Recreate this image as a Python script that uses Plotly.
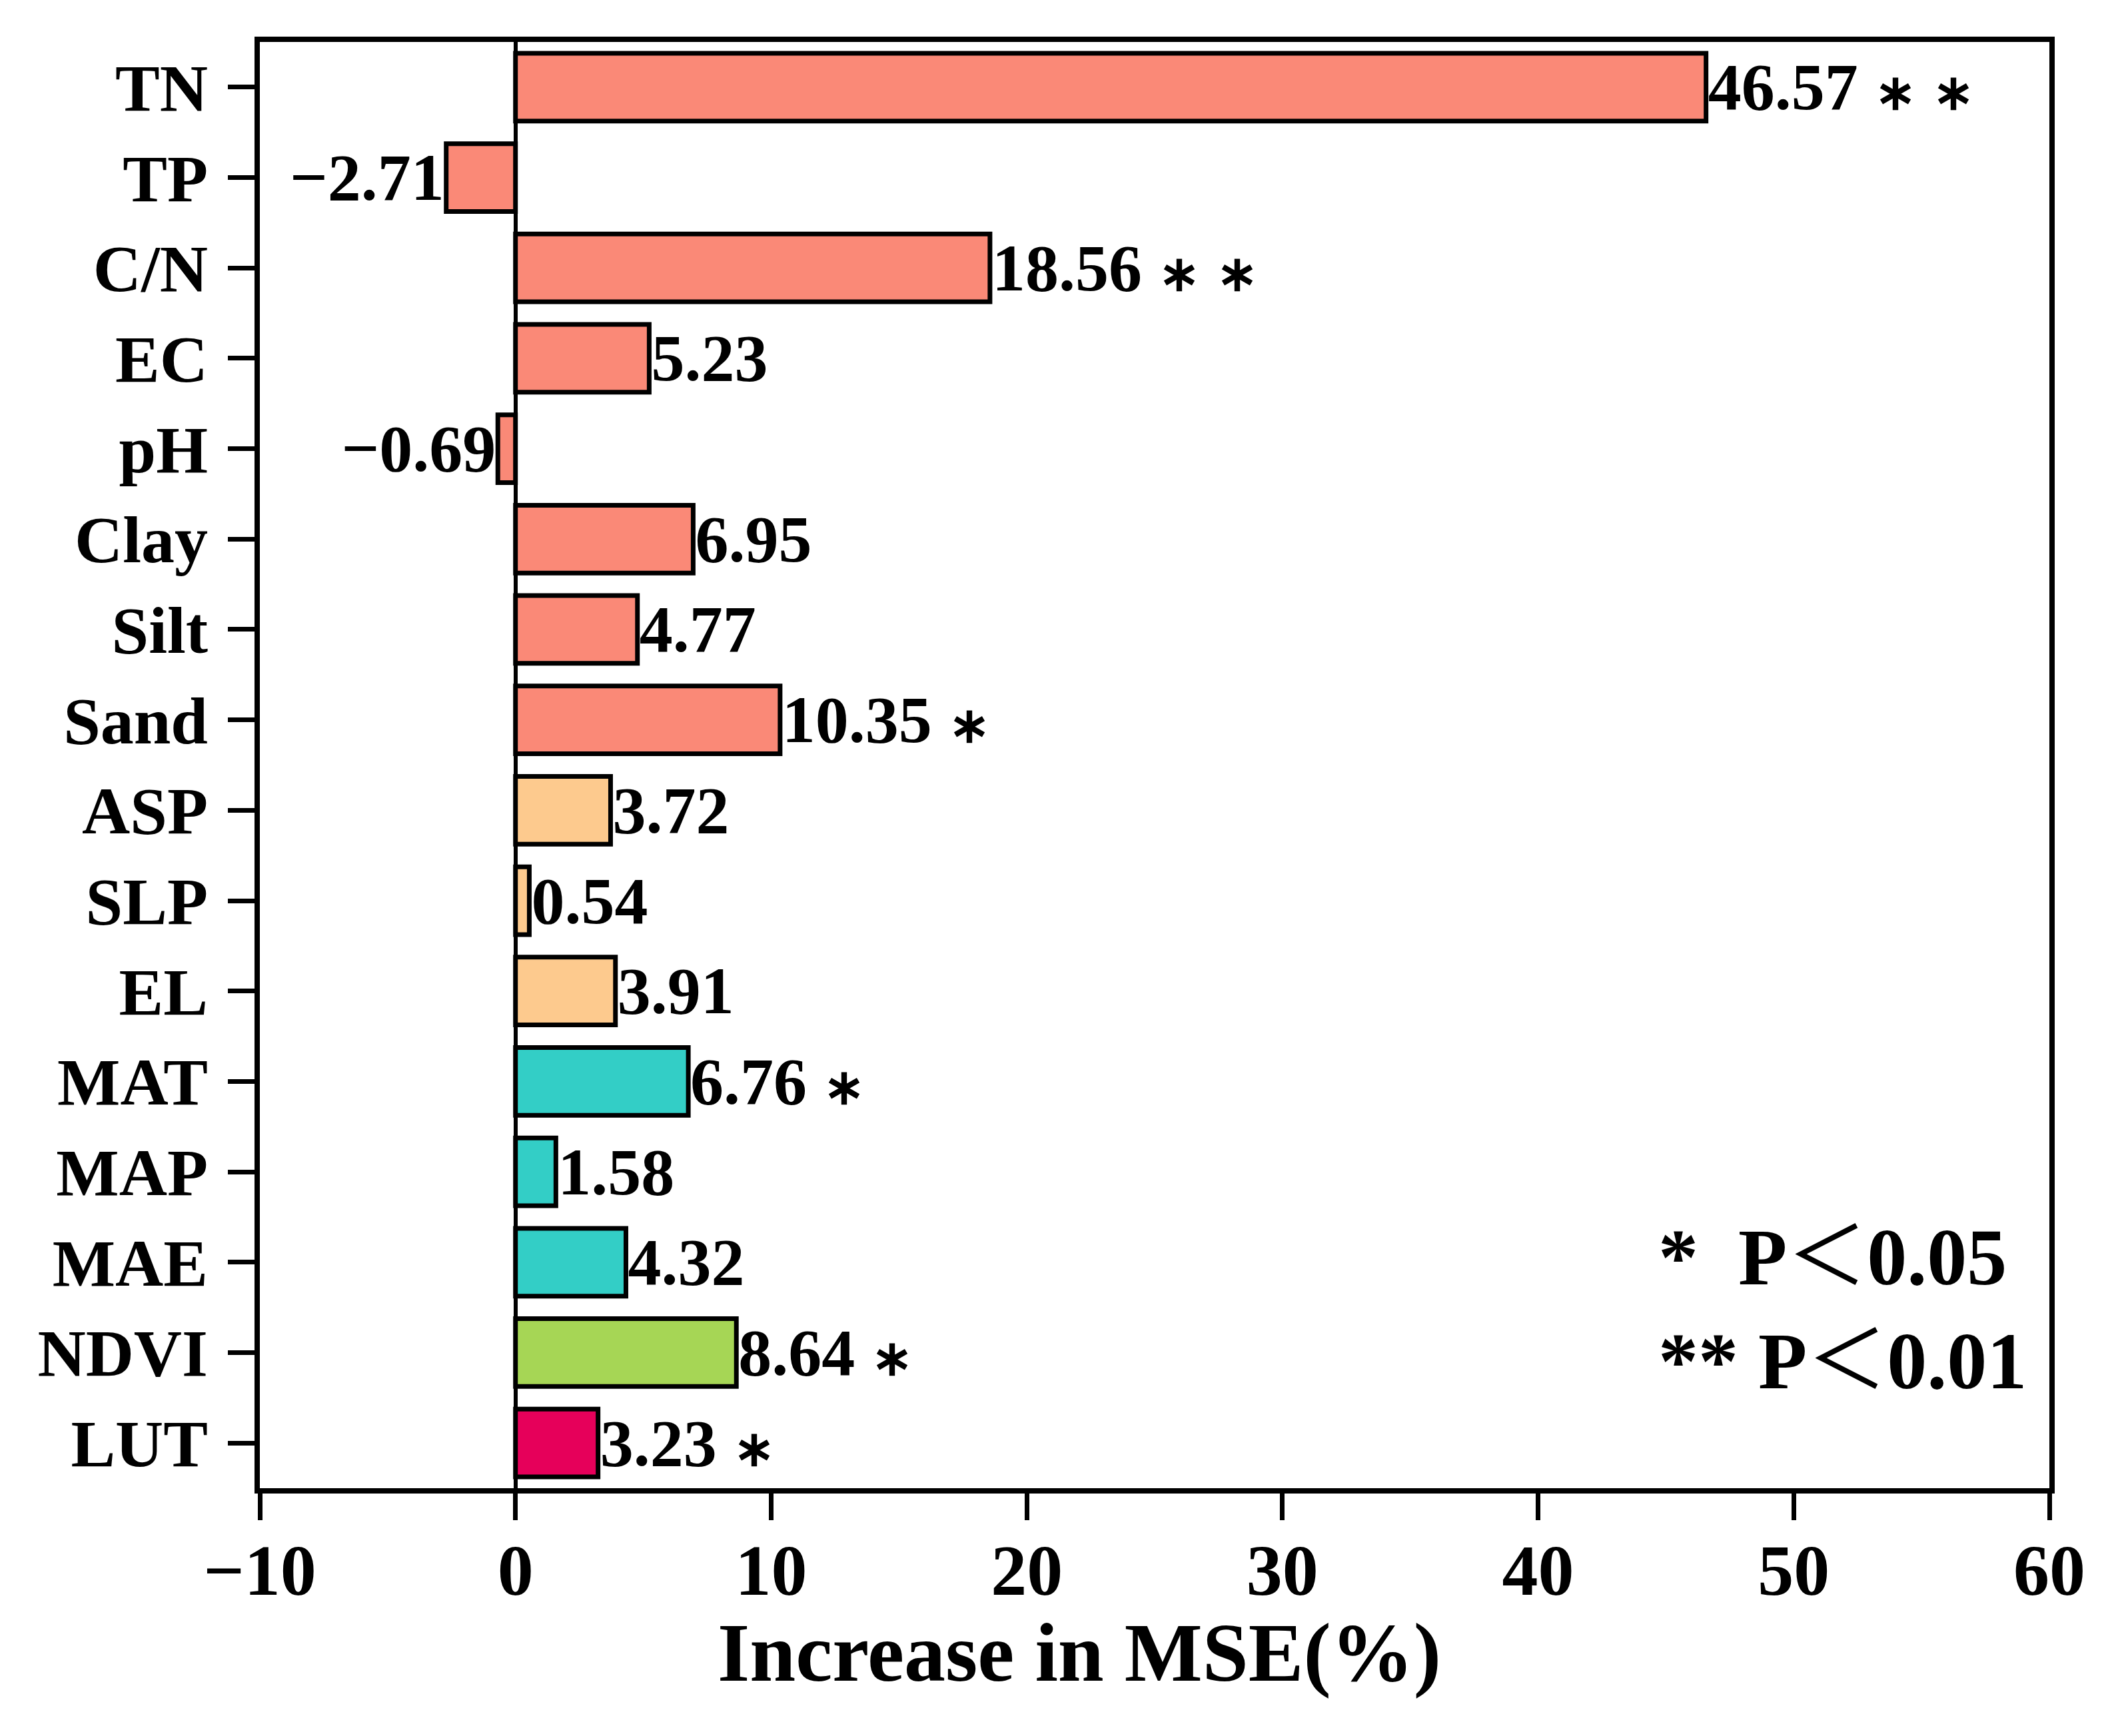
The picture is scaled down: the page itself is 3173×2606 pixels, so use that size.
import plotly.graph_objects as go

# variables, top to bottom as drawn
variables = ["TN", "TP", "C/N", "EC", "pH", "Clay", "Silt", "Sand",
             "ASP", "SLP", "EL", "MAT", "MAP", "MAE", "NDVI", "LUT"]
mse_increase = [46.57, -2.71, 18.56, 5.23, -0.69, 6.95, 4.77, 10.35,
                3.72, 0.54, 3.91, 6.76, 1.58, 4.32, 8.64, 3.23]
significance = ["**", "", "**", "", "", "", "", "*",
                "", "", "", "*", "", "", "*", "*"]
bar_colors = ["#FA8977"] * 8 + ["#FDCA8E"] * 3 + ["#33CEC6"] * 3 + ["#A6D655", "#E6005A"]

font_family = "Liberation Serif, Times New Roman, serif"
star = '<span style="font-size:74px">\u2217</span>'
lt = '<span style="font-family:Noto Sans CJK SC;font-weight:normal">＜</span>'


def label(value, stars):
    text = f"{value:.2f}".replace("-", "\u2212")
    if stars:
        text += " " + " ".join(star for _ in stars)
    return text


def main():
    labels = [label(v, s) for v, s in zip(mse_increase, significance)]

    fig = go.Figure()
    fig.add_bar(
        x=mse_increase, y=variables, orientation="h",
        marker=dict(color=bar_colors, line=dict(color="black", width=7)),
        width=0.75,
        text=labels, textposition="outside", constraintext="none", cliponaxis=False,
        textfont=dict(family=font_family, size=100, color="black", weight="bold"),
    )

    # significance key
    key_font = dict(family=font_family, size=120, color="black", weight="bold")
    fig.add_annotation(xref="paper", yref="paper", x=0.7807, y=0.1647, xanchor="left", yanchor="middle",
                       text="*  P" + lt + "0.05", showarrow=False, font=key_font)
    fig.add_annotation(xref="paper", yref="paper", x=0.7807, y=0.0931, xanchor="left", yanchor="middle",
                       text="** P" + lt + "0.01", showarrow=False, font=key_font)

    # axis title, sits a little left of the plot centre in the original
    fig.add_annotation(xref="paper", yref="paper", x=0.458, y=-0.114, xanchor="center", yanchor="middle",
                       text="Increase in MSE(%)", showarrow=False,
                       font=dict(family=font_family, size=124, color="black", weight="bold"))

    axis_common = dict(showline=True, linecolor="black", linewidth=8, mirror=True,
                       ticks="outside", ticklen=40, tickwidth=7, tickcolor="black",
                       showgrid=False)
    fig.update_layout(
        width=3173, height=2606,
        margin=dict(l=382, r=105, t=55, b=380),
        plot_bgcolor="white", paper_bgcolor="white",
        showlegend=False,
        font=dict(family=font_family, color="black", weight="bold"),
        xaxis=dict(range=[-10, 60], dtick=10, zeroline=True, zerolinecolor="black", zerolinewidth=6,
                   ticklabelstandoff=-18,
                   tickfont=dict(size=108, family=font_family, weight="bold"),
                   **axis_common),
        yaxis=dict(autorange="reversed", ticklabelstandoff=10,
                   tickfont=dict(size=100, family=font_family, weight="bold"),
                   **axis_common),
    )

    fig.write_html("out.html")


if __name__ == "__main__":
    main()
